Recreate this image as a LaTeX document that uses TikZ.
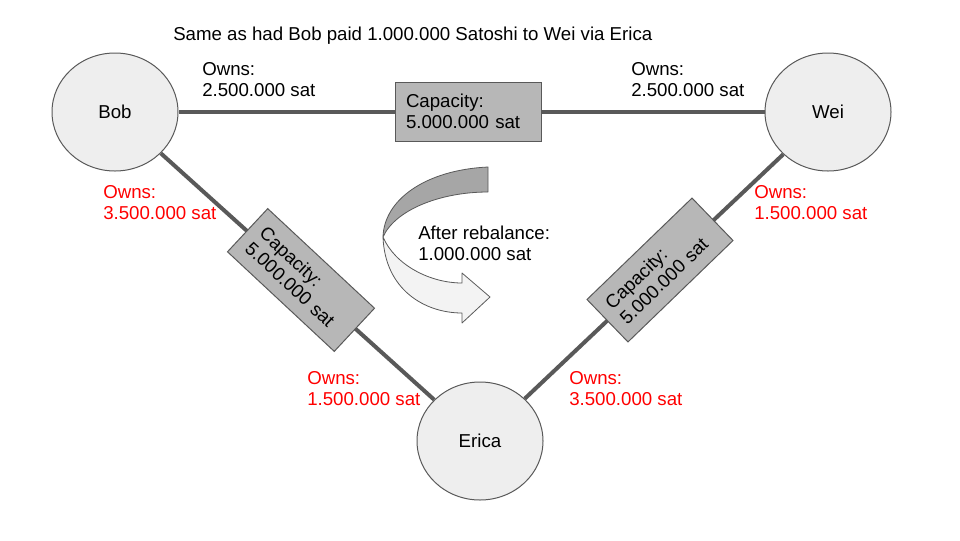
\documentclass[tikz,border=0pt]{standalone}
\usepackage{fontspec}
\setmainfont{Liberation Sans}
\usetikzlibrary{shapes.geometric}
\definecolor{edgegray}{HTML}{595959}
\definecolor{nodefill}{HTML}{EEEEEE}
\definecolor{boxfill}{HTML}{B7B7B7}
\definecolor{arrowdark}{HTML}{A6A6A6}
\definecolor{arrowlight}{HTML}{F3F3F3}
\definecolor{ownred}{HTML}{FF0000}
\begin{document}
\begin{tikzpicture}[x=0.75pt,y=-0.75pt,
  every node/.style={font=\fontsize{14}{15.75}\selectfont},
  peer/.style={ellipse, draw=edgegray, line width=0.75pt, fill=nodefill,
    minimum width=94.5pt, minimum height=88.5pt, inner sep=0pt},
  channel/.style={draw=edgegray, line width=3pt},
  capbox/.style={rectangle, draw=edgegray, line width=0.75pt, fill=boxfill,
    text width=93pt, inner xsep=8.25pt, inner ysep=0pt,
    minimum height=44.25pt, align=left},
  note/.style={anchor=north west, inner sep=0pt, align=left},
  owned/.style={note, text=ownred},
  bandline/.style={draw=edgegray, line width=0.6pt, line join=round}]
\useasboundingbox (0,0) rectangle (960,540);

% peers
\node[peer] (bob) at (115,112) {Bob};
\node[peer] (wei) at (828,112) {Wei};
\node[peer] (erica) at (480,441) {Erica};

% channels
\draw[channel] (bob) -- (wei);
\draw[channel] (bob) -- (erica);
\draw[channel] (wei) -- (erica);

% channel capacities
\node[capbox] (capbw) at (468,111.5) {Capacity:\\5.000.000 sat};
\node[capbox, rotate=-43] (capbe) at (301,280) {Capacity:\\5.000.000 sat};
\node[capbox, rotate=44] (capwe) at (660,270) {Capacity:\\5.000.000 sat};

% balances
\node[note] (ownbob) at (202,62) {Owns:\\2.500.000 sat};
\node[note] (ownwei) at (631,62) {Owns:\\2.500.000 sat};
\node[owned] (ownbobe) at (103,185) {Owns:\\3.500.000 sat};
\node[owned] (ownweie) at (754,185) {Owns:\\1.500.000 sat};
\node[owned] (owneb) at (307,371) {Owns:\\1.500.000 sat};
\node[owned] (ownew) at (569,371) {Owns:\\3.500.000 sat};

% title
\node[note] (title) at (173,27) {Same as had Bob paid 1.000.000 Satoshi to Wei via Erica};

% rebalance arrow
\path[fill=arrowdark, bandline] (488,167) .. controls (425,170) and (384,200) .. (383,237)
  .. controls (395,210) and (440,192) .. (488,192) -- cycle;
\path[fill=arrowlight, bandline] (383,237) .. controls (395,265) and (430,283) .. (462,283)
  -- (462,273) -- (490,297) -- (462,323) -- (462,313)
  .. controls (425,313) and (385,290) .. (383,237) -- cycle;
\node[note] (rebal) at (418,226) {After rebalance:\\1.000.000 sat};
\end{tikzpicture}
\end{document}
